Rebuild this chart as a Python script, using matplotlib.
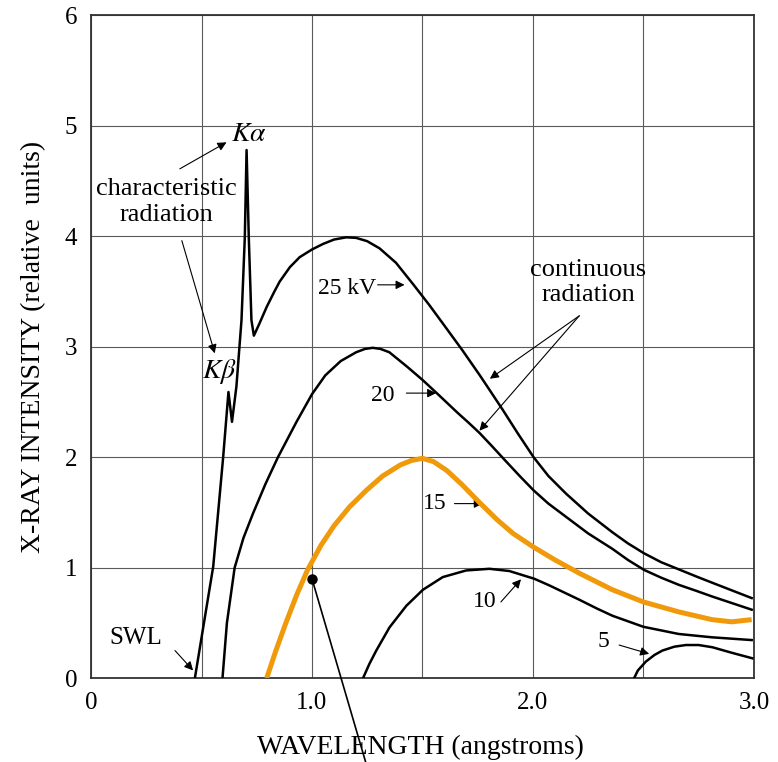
import matplotlib
matplotlib.use("Agg")
import matplotlib.pyplot as plt

# data (wavelength in angstroms, intensity in relative units)
wl_25 = [0.47, 0.493, 0.553, 0.598, 0.622, 0.638, 0.658, 0.681, 0.696, 0.704,
         0.714, 0.726, 0.737, 0.76, 0.795, 0.83, 0.854, 0.90, 0.944, 1.0, 1.05,
         1.10, 1.155, 1.20, 1.25, 1.306, 1.38, 1.456, 1.53, 1.607, 1.68, 1.76,
         1.81, 1.863, 1.93, 2.003, 2.07, 2.15, 2.25, 2.36, 2.43, 2.503, 2.58,
         2.66, 2.74, 2.81, 2.90, 2.99]
int_25 = [0.0, 0.28, 1.01, 2.0, 2.59, 2.32, 2.64, 3.24, 3.99, 4.78,
          3.99, 3.24, 3.10, 3.20, 3.36, 3.50, 3.59, 3.72, 3.81, 3.88, 3.93,
          3.97, 3.99, 3.985, 3.955, 3.89, 3.76, 3.57, 3.38, 3.17, 2.97, 2.74,
          2.59, 2.43, 2.22, 2.0, 1.83, 1.67, 1.49, 1.32, 1.22, 1.13, 1.05,
          0.985, 0.92, 0.865, 0.795, 0.725]

wl_20 = [0.595, 0.615, 0.650, 0.69, 0.733, 0.79, 0.846, 0.93, 1.0, 1.06, 1.13,
         1.2, 1.24, 1.275, 1.31, 1.35, 1.43, 1.5, 1.562, 1.66, 1.71, 1.758,
         1.81, 1.87, 1.94, 2.003, 2.07, 2.15, 2.25, 2.36, 2.43, 2.503, 2.58,
         2.66, 2.74, 2.81, 2.90, 2.99]
int_20 = [0.0, 0.5, 1.0, 1.27, 1.49, 1.76, 2.0, 2.32, 2.57, 2.74, 2.87,
          2.95, 2.98, 2.99, 2.98, 2.95, 2.82, 2.70, 2.585, 2.40, 2.31, 2.22,
          2.11, 1.98, 1.83, 1.70, 1.58, 1.46, 1.31, 1.17, 1.07, 0.98, 0.91,
          0.845, 0.79, 0.74, 0.68, 0.62]

wl_15 = [0.795, 0.835, 0.88, 0.93, 0.98, 1.04, 1.10, 1.17, 1.246, 1.32, 1.40,
         1.45, 1.50, 1.55, 1.61, 1.68, 1.758, 1.84, 1.91, 2.0, 2.1, 2.21, 2.36,
         2.5, 2.66, 2.81, 2.90, 2.99]
int_15 = [0.0, 0.24, 0.49, 0.75, 0.98, 1.20, 1.38, 1.55, 1.70, 1.83, 1.93,
          1.97, 1.99, 1.96, 1.88, 1.75, 1.59, 1.43, 1.31, 1.19, 1.07, 0.95, 0.80,
          0.69, 0.60, 0.53, 0.51, 0.53]

wl_10 = [1.231, 1.26, 1.291, 1.351, 1.427, 1.502, 1.592, 1.698, 1.803, 1.893,
         2.006, 2.074, 2.21, 2.29, 2.36, 2.5, 2.66, 2.81, 2.99]
int_10 = [0.0, 0.13, 0.25, 0.46, 0.655, 0.80, 0.915, 0.975, 0.99, 0.97,
          0.90, 0.84, 0.71, 0.63, 0.565, 0.465, 0.40, 0.37, 0.345]

wl_5 = [2.458, 2.475, 2.511, 2.55, 2.586, 2.64, 2.692, 2.75, 2.812, 2.90, 2.993]
int_5 = [0.0, 0.07, 0.15, 0.21, 0.25, 0.285, 0.30, 0.30, 0.28, 0.23, 0.18]

# marked point on the 15 kV curve and where its pointer line leaves the figure
dot_wl, dot_int = 1.0, 0.9
pointer_wl, pointer_int = 1.243, -0.76

x_ticks = [0, 1, 2, 3]
x_tick_labels = ["0", "1.0", "2.0", "3.0"]
y_ticks = [0, 1, 2, 3, 4, 5, 6]

plt.rcParams.update({
    "font.family": "serif",
    "font.serif": ["Liberation Serif", "DejaVu Serif"],
    "mathtext.fontset": "stix",
})

fig = plt.figure(figsize=(7.78, 7.62), dpi=100)
ax = fig.add_axes([0.117, 0.110, 0.852, 0.870])

# curves
for wl, inten in [(wl_25, int_25), (wl_20, int_20), (wl_10, int_10), (wl_5, int_5)]:
    ax.plot(wl, inten, color="black", lw=1.8, solid_joinstyle="round", zorder=3)
ax.plot(wl_15, int_15, color="#F09A0B", lw=3.6, solid_capstyle="butt",
        solid_joinstyle="round", zorder=4)

# pointer from the dot down out of the axes
ax.plot([dot_wl, pointer_wl], [dot_int, pointer_int], color="black", lw=1.2,
        clip_on=False, zorder=5)
ax.plot([dot_wl], [dot_int], "o", color="black", ms=6.5, zorder=6)

# axes look
ax.set_xlim(0, 3)
ax.set_ylim(0, 6)
ax.set_xticks(x_ticks, labels=x_tick_labels)
ax.set_xticks([0.5, 1.5, 2.5], minor=True)
ax.set_yticks(y_ticks)
ax.grid(which="both", color="#5a5a5a", lw=0.8)
ax.set_axisbelow(True)
ax.tick_params(which="both", length=0, labelsize=18)
ax.tick_params(axis="x", pad=10)
ax.tick_params(axis="y", pad=10)
for sp in ax.spines.values():
    sp.set_color("#333333")
    sp.set_linewidth(1.3)

ax.set_xlabel("WAVELENGTH (angstroms)", fontsize=20)
ax.set_ylabel("X-RAY INTENSITY (relative  units)", fontsize=20)
ax.xaxis.set_label_coords(0.497, -0.086)
ax.yaxis.set_label_coords(-0.068, 0.5)

# annotations
arrow = dict(arrowstyle="-|>", color="black", lw=0.8, mutation_scale=13,
             shrinkA=0, shrinkB=0)

ax.text(0.714, 4.92, r"$K\alpha$", fontsize=20, ha="center", va="center")
ax.annotate("", xy=(0.613, 4.85), xytext=(0.402, 4.61), arrowprops=arrow)
ax.text(0.343, 4.31, "characteristic\nradiation", fontsize=19, ha="center",
        va="center", linespacing=1.2)
ax.annotate("", xy=(0.560, 2.94), xytext=(0.411, 3.96), arrowprops=arrow)
ax.text(0.583, 2.78, r"$K\beta$", fontsize=20, ha="center", va="center")

ax.text(1.157, 3.53, "25 kV", fontsize=17, ha="center", va="center")
ax.annotate("", xy=(1.419, 3.56), xytext=(1.297, 3.56), arrowprops=arrow)

ax.text(2.25, 3.58, "continuous\nradiation", fontsize=19, ha="center",
        va="center", linespacing=1.2)
ax.annotate("", xy=(1.805, 2.71), xytext=(2.21, 3.28), arrowprops=arrow)
ax.annotate("", xy=(1.758, 2.24), xytext=(2.21, 3.28), arrowprops=arrow)

ax.text(1.32, 2.56, "20", fontsize=17, ha="center", va="center")
ax.annotate("", xy=(1.562, 2.58), xytext=(1.427, 2.58), arrowprops=arrow)

ax.text(1.555, 1.58, "15", fontsize=17, ha="center", va="center")
ax.annotate("", xy=(1.773, 1.58), xytext=(1.645, 1.58), arrowprops=arrow)

ax.text(1.78, 0.69, "10", fontsize=17, ha="center", va="center")
ax.annotate("", xy=(1.946, 0.895), xytext=(1.855, 0.69), arrowprops=arrow)

ax.text(2.318, 0.33, "5", fontsize=17, ha="center", va="center")
ax.annotate("", xy=(2.526, 0.22), xytext=(2.39, 0.30), arrowprops=arrow)

ax.text(0.203, 0.36, "SWL", fontsize=18, ha="center", va="center")
ax.annotate("", xy=(0.462, 0.07), xytext=(0.38, 0.25), arrowprops=arrow)

fig.savefig("out.png", dpi=100, facecolor="white")
